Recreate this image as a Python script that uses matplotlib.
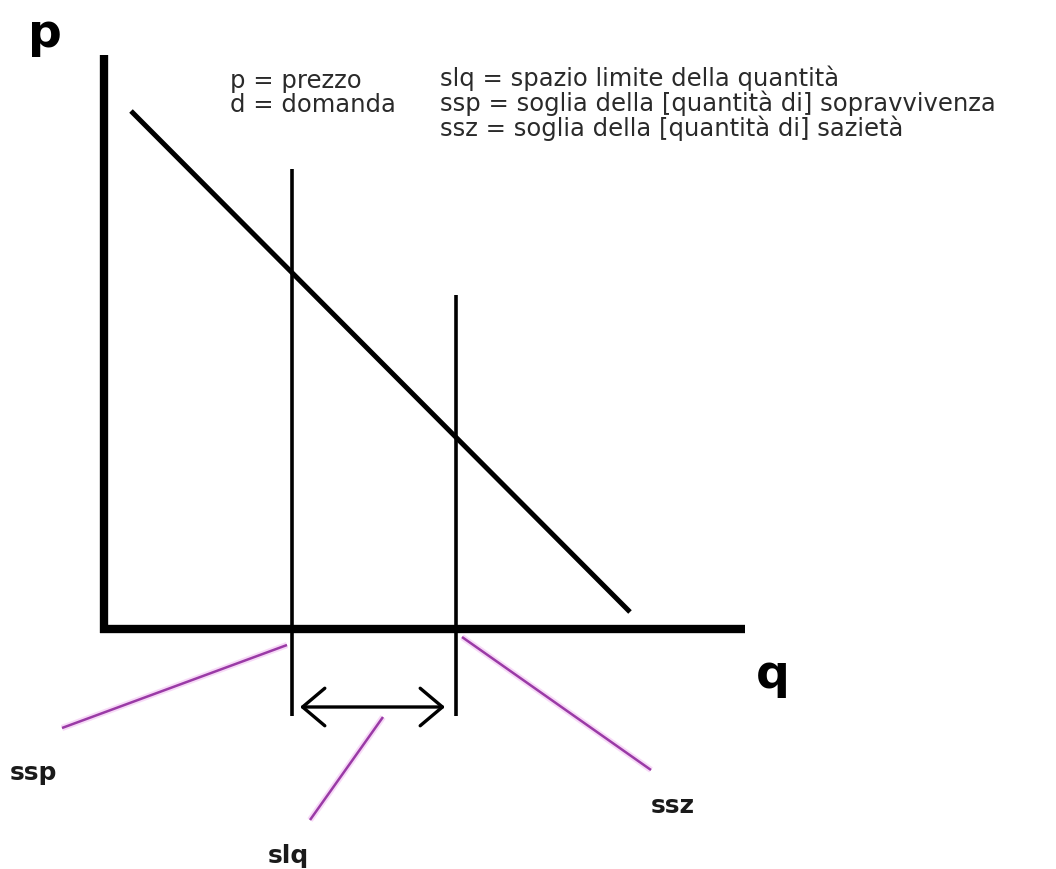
import matplotlib.pyplot as plt

# diagram coordinates (pixel-like space, y grows downward)
axis_p = [(104, 56), (104, 634)]
axis_q = [(100, 630), (745, 630)]
demand = [(131, 112), (630, 613)]
ssp_line = [(292, 170), (292, 717)]
ssz_line = [(456, 296), (456, 717)]
slq_arrow = [(300, 708), (445, 708)]

pointers = {
    'ssp': [(287, 646), (62, 729)],
    'slq': [(383, 718), (310, 821)],
    'ssz': [(462, 638), (651, 771)],
}
pointer_labels = {'ssp': (10, 780), 'slq': (268, 863), 'ssz': (651, 813)}

legend_left = ['p = prezzo', 'd = domanda']
legend_right = ['slq = spazio limite della quantità',
                'ssp = soglia della [quantità di] sopravvivenza',
                'ssz = soglia della [quantità di] sazietà']

fig = plt.figure(figsize=(10.56, 8.7), dpi=100)
ax = fig.add_axes([0, 0, 1, 1])
ax.set_xlim(0, 1056)
ax.set_ylim(870, 0)
ax.axis('off')

def seg(pts, **kw):
    (x0, y0), (x1, y1) = pts
    ax.plot([x0, x1], [y0, y1], solid_capstyle='butt', **kw)

seg(axis_p, color='black', lw=6)
seg(axis_q, color='black', lw=6)
seg(demand, color='black', lw=3.6)
seg(ssp_line, color='black', lw=2.6)
seg(ssz_line, color='black', lw=2.6)

ax.annotate('', xy=slq_arrow[1], xytext=slq_arrow[0],
            arrowprops=dict(arrowstyle='<->,head_length=1.6,head_width=1.35',
                            color='black', lw=2.4, shrinkA=0, shrinkB=0))

for key, pts in pointers.items():
    seg(pts, color='#f2c0f2', lw=4.5, alpha=0.6)
    seg(pts, color='#9a3aa6', lw=1.8)
    ax.text(*pointer_labels[key], key, fontsize=18, fontweight='bold',
            color='#1a1a1a', ha='left', va='baseline')

ax.text(28, 47, 'p', fontsize=34, fontweight='bold', va='baseline')
ax.text(756, 688, 'q', fontsize=34, fontweight='bold', va='baseline')

# the two legend columns, one block of lines each (y = baseline of last line)
line_gap = 24.5
ax.text(230, 87 + line_gap * (len(legend_left) - 1), '\n'.join(legend_left),
        fontsize=17.5, color='#2a2a2a', va='baseline', linespacing=0.98)
ax.text(440, 87 + line_gap * (len(legend_right) - 1), '\n'.join(legend_right),
        fontsize=17.5, color='#2a2a2a', va='baseline', linespacing=0.98)

fig.savefig('out.png', dpi=100)
